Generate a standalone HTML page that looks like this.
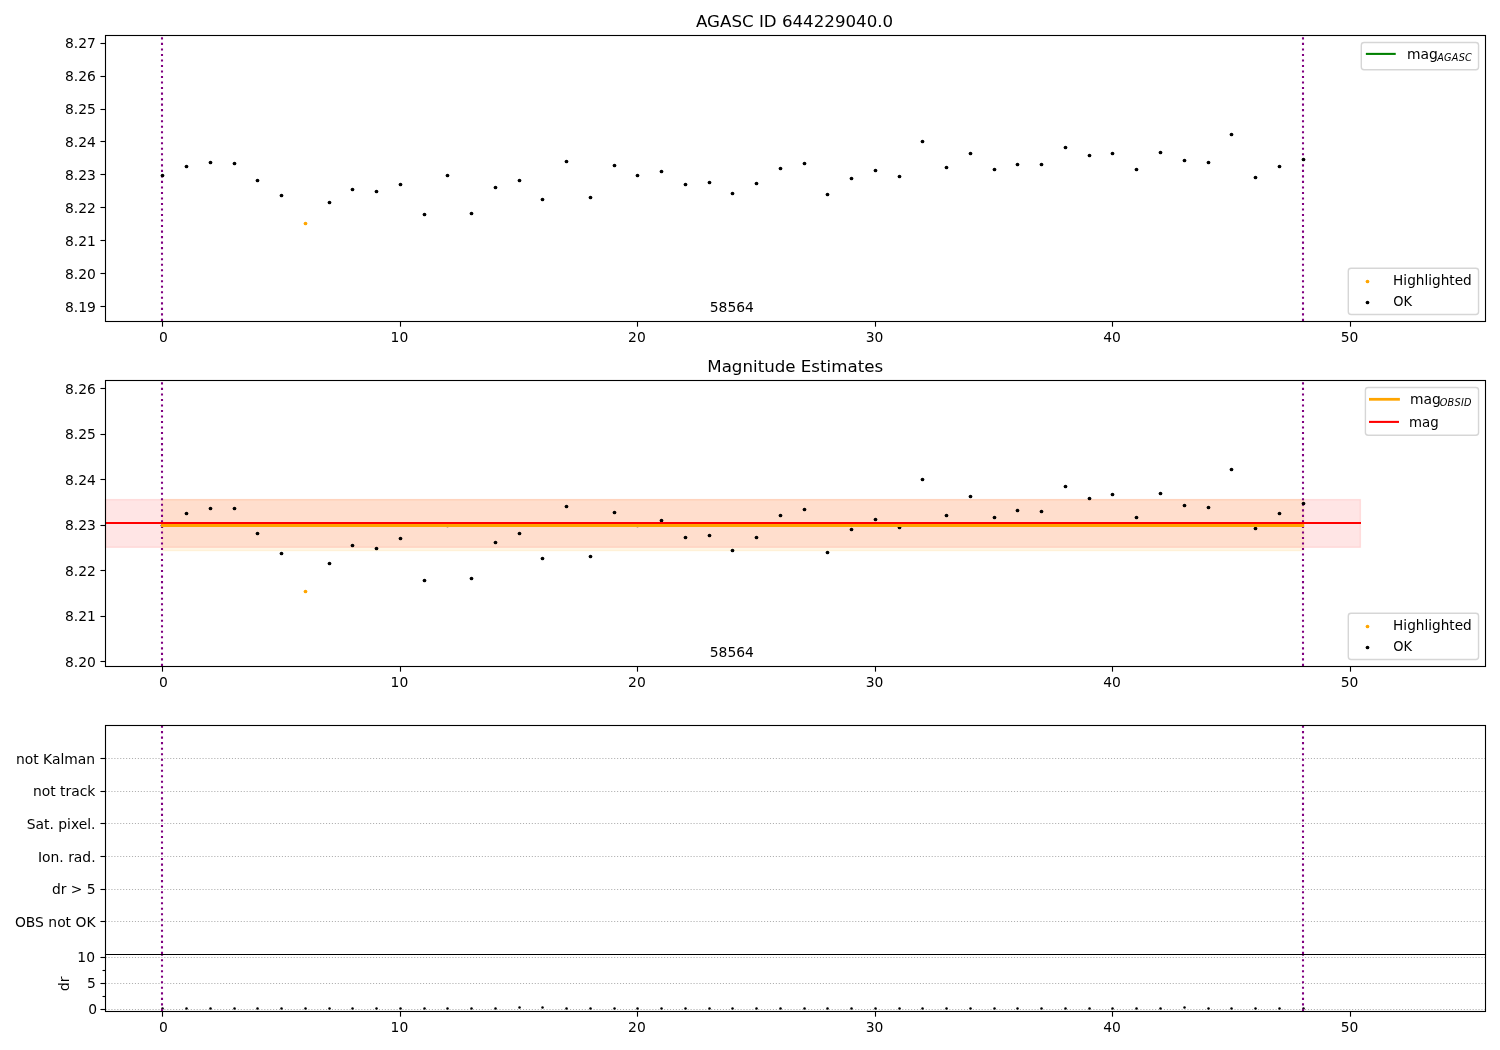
<!DOCTYPE html>
<html lang="en"><head><meta charset="utf-8"><title>AGASC ID 644229040.0</title>
<style>html,body{margin:0;padding:0;background:#fff}svg{display:block}</style></head>
<body>
<svg width="1500" height="1050" viewBox="0 0 1500 1050" font-family="'DejaVu Sans','Liberation Sans',sans-serif" font-size="13.89px" fill="#000">
<rect x="0" y="0" width="1500" height="1050" fill="#fff"/>
<g>
<line x1="162.0" y1="320.95" x2="162.0" y2="35.5" stroke="#800080" stroke-width="2.08" stroke-dasharray="2.08 3.44"/>
<line x1="1303.0" y1="320.95" x2="1303.0" y2="35.5" stroke="#800080" stroke-width="2.08" stroke-dasharray="2.08 3.44"/>
<circle cx="162.5" cy="175.5" r="1.85" fill="#000"/>
<circle cx="186.5" cy="166.5" r="1.85" fill="#000"/>
<circle cx="210.5" cy="162.5" r="1.85" fill="#000"/>
<circle cx="234.5" cy="163.5" r="1.85" fill="#000"/>
<circle cx="257.5" cy="180.5" r="1.85" fill="#000"/>
<circle cx="281.5" cy="195.5" r="1.85" fill="#000"/>
<circle cx="305.5" cy="223.5" r="1.85" fill="#ffa500"/>
<circle cx="329.5" cy="202.5" r="1.85" fill="#000"/>
<circle cx="352.5" cy="189.5" r="1.85" fill="#000"/>
<circle cx="376.5" cy="191.5" r="1.85" fill="#000"/>
<circle cx="400.5" cy="184.5" r="1.85" fill="#000"/>
<circle cx="424.5" cy="214.5" r="1.85" fill="#000"/>
<circle cx="447.5" cy="175.5" r="1.85" fill="#000"/>
<circle cx="471.5" cy="213.5" r="1.85" fill="#000"/>
<circle cx="495.5" cy="187.5" r="1.85" fill="#000"/>
<circle cx="519.5" cy="180.5" r="1.85" fill="#000"/>
<circle cx="542.5" cy="199.5" r="1.85" fill="#000"/>
<circle cx="566.5" cy="161.5" r="1.85" fill="#000"/>
<circle cx="590.5" cy="197.5" r="1.85" fill="#000"/>
<circle cx="614.5" cy="165.5" r="1.85" fill="#000"/>
<circle cx="637.5" cy="175.5" r="1.85" fill="#000"/>
<circle cx="661.5" cy="171.5" r="1.85" fill="#000"/>
<circle cx="685.5" cy="184.5" r="1.85" fill="#000"/>
<circle cx="709.5" cy="182.5" r="1.85" fill="#000"/>
<circle cx="732.5" cy="193.5" r="1.85" fill="#000"/>
<circle cx="756.5" cy="183.5" r="1.85" fill="#000"/>
<circle cx="780.5" cy="168.5" r="1.85" fill="#000"/>
<circle cx="804.5" cy="163.5" r="1.85" fill="#000"/>
<circle cx="827.5" cy="194.5" r="1.85" fill="#000"/>
<circle cx="851.5" cy="178.5" r="1.85" fill="#000"/>
<circle cx="875.5" cy="170.5" r="1.85" fill="#000"/>
<circle cx="899.5" cy="176.5" r="1.85" fill="#000"/>
<circle cx="922.5" cy="141.5" r="1.85" fill="#000"/>
<circle cx="946.5" cy="167.5" r="1.85" fill="#000"/>
<circle cx="970.5" cy="153.5" r="1.85" fill="#000"/>
<circle cx="994.5" cy="169.5" r="1.85" fill="#000"/>
<circle cx="1017.5" cy="164.5" r="1.85" fill="#000"/>
<circle cx="1041.5" cy="164.5" r="1.85" fill="#000"/>
<circle cx="1065.5" cy="147.5" r="1.85" fill="#000"/>
<circle cx="1089.5" cy="155.5" r="1.85" fill="#000"/>
<circle cx="1112.5" cy="153.5" r="1.85" fill="#000"/>
<circle cx="1136.5" cy="169.5" r="1.85" fill="#000"/>
<circle cx="1160.5" cy="152.5" r="1.85" fill="#000"/>
<circle cx="1184.5" cy="160.5" r="1.85" fill="#000"/>
<circle cx="1208.5" cy="162.5" r="1.85" fill="#000"/>
<circle cx="1231.5" cy="134.5" r="1.85" fill="#000"/>
<circle cx="1255.5" cy="177.5" r="1.85" fill="#000"/>
<circle cx="1279.5" cy="166.5" r="1.85" fill="#000"/>
<circle cx="1303.5" cy="159.5" r="1.85" fill="#000"/>
<text x="731.86" y="312" text-anchor="middle">58564</text>
<rect x="1361.30" y="42.45" width="117.25" height="27.25" rx="2.78" ry="2.78" fill="#fff" fill-opacity="0.8" stroke="#ccc" stroke-opacity="0.8" stroke-width="1.39"/>
<line x1="1366.9" y1="53.9" x2="1394.7" y2="53.9" stroke="#008000" stroke-width="2.08" stroke-linecap="square"/>
<text x="1406.90" y="59.00">mag<tspan font-style="oblique" font-size="9.72px" dy="2.1" dx="-0.5" letter-spacing="0.22">AGASC</tspan></text>
<rect x="1348.30" y="268.30" width="130.25" height="46.25" rx="2.78" ry="2.78" fill="#fff" fill-opacity="0.8" stroke="#ccc" stroke-opacity="0.8" stroke-width="1.39"/>
<circle cx="1367.5" cy="281.5" r="1.85" fill="#ffa500"/>
<circle cx="1367.5" cy="302.5" r="1.85" fill="#000"/>
<text transform="translate(1393.10 285) scale(0.983 1)" text-anchor="start">Highlighted</text>
<text transform="translate(1393.20 306) scale(0.94 1)" text-anchor="start">OK</text>
<rect x="105.5" y="35.5" width="1380.0" height="286.0" fill="none" stroke="#000" stroke-width="1.11" stroke-linejoin="miter"/>
<line x1="162.5" y1="321.5" x2="162.5" y2="326.66" stroke="#000" stroke-width="1.11"/>
<text x="163.51" y="342" text-anchor="middle">0</text>
<line x1="400.5" y1="321.5" x2="400.5" y2="326.66" stroke="#000" stroke-width="1.11"/>
<text x="399.43" y="342" text-anchor="middle">10</text>
<line x1="637.5" y1="321.5" x2="637.5" y2="326.66" stroke="#000" stroke-width="1.11"/>
<text x="636.95" y="342" text-anchor="middle">20</text>
<line x1="875.5" y1="321.5" x2="875.5" y2="326.66" stroke="#000" stroke-width="1.11"/>
<text x="874.47" y="342" text-anchor="middle">30</text>
<line x1="1112.5" y1="321.5" x2="1112.5" y2="326.66" stroke="#000" stroke-width="1.11"/>
<text x="1111.99" y="342" text-anchor="middle">40</text>
<line x1="1350.5" y1="321.5" x2="1350.5" y2="326.66" stroke="#000" stroke-width="1.11"/>
<text x="1349.51" y="342" text-anchor="middle">50</text>
<line x1="105.5" y1="43.5" x2="100.44" y2="43.5" stroke="#000" stroke-width="1.11"/>
<text x="95.90" y="48" text-anchor="end">8.27</text>
<line x1="105.5" y1="76.5" x2="100.44" y2="76.5" stroke="#000" stroke-width="1.11"/>
<text x="95.90" y="81" text-anchor="end">8.26</text>
<line x1="105.5" y1="109.5" x2="100.44" y2="109.5" stroke="#000" stroke-width="1.11"/>
<text x="95.90" y="114" text-anchor="end">8.25</text>
<line x1="105.5" y1="141.5" x2="100.44" y2="141.5" stroke="#000" stroke-width="1.11"/>
<text x="95.90" y="147" text-anchor="end">8.24</text>
<line x1="105.5" y1="174.5" x2="100.44" y2="174.5" stroke="#000" stroke-width="1.11"/>
<text x="95.90" y="180" text-anchor="end">8.23</text>
<line x1="105.5" y1="207.5" x2="100.44" y2="207.5" stroke="#000" stroke-width="1.11"/>
<text x="95.90" y="213" text-anchor="end">8.22</text>
<line x1="105.5" y1="240.5" x2="100.44" y2="240.5" stroke="#000" stroke-width="1.11"/>
<text x="95.90" y="246" text-anchor="end">8.21</text>
<line x1="105.5" y1="273.5" x2="100.44" y2="273.5" stroke="#000" stroke-width="1.11"/>
<text x="95.90" y="279" text-anchor="end">8.20</text>
<line x1="105.5" y1="306.5" x2="100.44" y2="306.5" stroke="#000" stroke-width="1.11"/>
<text x="95.90" y="312" text-anchor="end">8.19</text>
<text x="794.6" y="27" text-anchor="middle" font-size="16.67px">AGASC ID 644229040.0</text>
</g>
<g>
<rect x="105.5" y="499.6" width="1254.90" height="47.70" fill="#f00" fill-opacity="0.1" stroke="#f00" stroke-opacity="0.1" stroke-width="1.39"/>
<rect x="162.415" y="499.6" width="1141.09" height="51.00" fill="#ffa500" fill-opacity="0.1" stroke="#ffa500" stroke-opacity="0.1" stroke-width="1.39"/>
<line x1="162.0" y1="665.95" x2="162.0" y2="380.5" stroke="#800080" stroke-width="2.08" stroke-dasharray="2.08 3.44"/>
<line x1="1303.0" y1="665.95" x2="1303.0" y2="380.5" stroke="#800080" stroke-width="2.08" stroke-dasharray="2.08 3.44"/>
<circle cx="162.5" cy="525.5" r="1.85" fill="#000"/>
<circle cx="186.5" cy="513.5" r="1.85" fill="#000"/>
<circle cx="210.5" cy="508.5" r="1.85" fill="#000"/>
<circle cx="234.5" cy="508.5" r="1.85" fill="#000"/>
<circle cx="257.5" cy="533.5" r="1.85" fill="#000"/>
<circle cx="281.5" cy="553.5" r="1.85" fill="#000"/>
<circle cx="305.5" cy="591.5" r="1.85" fill="#ffa500"/>
<circle cx="329.5" cy="563.5" r="1.85" fill="#000"/>
<circle cx="352.5" cy="545.5" r="1.85" fill="#000"/>
<circle cx="376.5" cy="548.5" r="1.85" fill="#000"/>
<circle cx="400.5" cy="538.5" r="1.85" fill="#000"/>
<circle cx="424.5" cy="580.5" r="1.85" fill="#000"/>
<circle cx="447.5" cy="525.5" r="1.85" fill="#000"/>
<circle cx="471.5" cy="578.5" r="1.85" fill="#000"/>
<circle cx="495.5" cy="542.5" r="1.85" fill="#000"/>
<circle cx="519.5" cy="533.5" r="1.85" fill="#000"/>
<circle cx="542.5" cy="558.5" r="1.85" fill="#000"/>
<circle cx="566.5" cy="506.5" r="1.85" fill="#000"/>
<circle cx="590.5" cy="556.5" r="1.85" fill="#000"/>
<circle cx="614.5" cy="512.5" r="1.85" fill="#000"/>
<circle cx="637.5" cy="525.5" r="1.85" fill="#000"/>
<circle cx="661.5" cy="520.5" r="1.85" fill="#000"/>
<circle cx="685.5" cy="537.5" r="1.85" fill="#000"/>
<circle cx="709.5" cy="535.5" r="1.85" fill="#000"/>
<circle cx="732.5" cy="550.5" r="1.85" fill="#000"/>
<circle cx="756.5" cy="537.5" r="1.85" fill="#000"/>
<circle cx="780.5" cy="515.5" r="1.85" fill="#000"/>
<circle cx="804.5" cy="509.5" r="1.85" fill="#000"/>
<circle cx="827.5" cy="552.5" r="1.85" fill="#000"/>
<circle cx="851.5" cy="529.5" r="1.85" fill="#000"/>
<circle cx="875.5" cy="519.5" r="1.85" fill="#000"/>
<circle cx="899.5" cy="527.5" r="1.85" fill="#000"/>
<circle cx="922.5" cy="479.5" r="1.85" fill="#000"/>
<circle cx="946.5" cy="515.5" r="1.85" fill="#000"/>
<circle cx="970.5" cy="496.5" r="1.85" fill="#000"/>
<circle cx="994.5" cy="517.5" r="1.85" fill="#000"/>
<circle cx="1017.5" cy="510.5" r="1.85" fill="#000"/>
<circle cx="1041.5" cy="511.5" r="1.85" fill="#000"/>
<circle cx="1065.5" cy="486.5" r="1.85" fill="#000"/>
<circle cx="1089.5" cy="498.5" r="1.85" fill="#000"/>
<circle cx="1112.5" cy="494.5" r="1.85" fill="#000"/>
<circle cx="1136.5" cy="517.5" r="1.85" fill="#000"/>
<circle cx="1160.5" cy="493.5" r="1.85" fill="#000"/>
<circle cx="1184.5" cy="505.5" r="1.85" fill="#000"/>
<circle cx="1208.5" cy="507.5" r="1.85" fill="#000"/>
<circle cx="1231.5" cy="469.5" r="1.85" fill="#000"/>
<circle cx="1255.5" cy="528.5" r="1.85" fill="#000"/>
<circle cx="1279.5" cy="513.5" r="1.85" fill="#000"/>
<circle cx="1303.5" cy="503.5" r="1.85" fill="#000"/>
<line x1="162.415" y1="525.5" x2="1302.8" y2="525.5" stroke="#ffa500" stroke-width="2.78" stroke-linecap="square"/>
<line x1="106.54" y1="522.95" x2="1359.95" y2="522.95" stroke="#f00" stroke-width="2.08" stroke-linecap="square"/>
<text x="731.86" y="657" text-anchor="middle">58564</text>
<rect x="1365.40" y="387.45" width="113.15" height="47.85" rx="2.78" ry="2.78" fill="#fff" fill-opacity="0.8" stroke="#ccc" stroke-opacity="0.8" stroke-width="1.39"/>
<line x1="1370.4" y1="399.3" x2="1398.5" y2="399.3" stroke="#ffa500" stroke-width="2.78" stroke-linecap="square"/>
<line x1="1370.05" y1="421.9" x2="1397.95" y2="421.9" stroke="#f00" stroke-width="2.08" stroke-linecap="square"/>
<text x="1409.90" y="404.00">mag<tspan font-style="oblique" font-size="9.72px" dy="2.1" dx="-1.0" letter-spacing="0.25">OBSID</tspan></text>
<text transform="translate(1409.10 427) scale(0.962 1)" text-anchor="start">mag</text>
<rect x="1348.30" y="613.30" width="130.25" height="46.25" rx="2.78" ry="2.78" fill="#fff" fill-opacity="0.8" stroke="#ccc" stroke-opacity="0.8" stroke-width="1.39"/>
<circle cx="1367.5" cy="626.5" r="1.85" fill="#ffa500"/>
<circle cx="1367.5" cy="647.5" r="1.85" fill="#000"/>
<text transform="translate(1393.10 630) scale(0.983 1)" text-anchor="start">Highlighted</text>
<text transform="translate(1393.20 651) scale(0.94 1)" text-anchor="start">OK</text>
<rect x="105.5" y="380.5" width="1380.0" height="286.0" fill="none" stroke="#000" stroke-width="1.11" stroke-linejoin="miter"/>
<line x1="162.5" y1="666.5" x2="162.5" y2="671.66" stroke="#000" stroke-width="1.11"/>
<text x="163.51" y="687" text-anchor="middle">0</text>
<line x1="400.5" y1="666.5" x2="400.5" y2="671.66" stroke="#000" stroke-width="1.11"/>
<text x="399.43" y="687" text-anchor="middle">10</text>
<line x1="637.5" y1="666.5" x2="637.5" y2="671.66" stroke="#000" stroke-width="1.11"/>
<text x="636.95" y="687" text-anchor="middle">20</text>
<line x1="875.5" y1="666.5" x2="875.5" y2="671.66" stroke="#000" stroke-width="1.11"/>
<text x="874.47" y="687" text-anchor="middle">30</text>
<line x1="1112.5" y1="666.5" x2="1112.5" y2="671.66" stroke="#000" stroke-width="1.11"/>
<text x="1111.99" y="687" text-anchor="middle">40</text>
<line x1="1350.5" y1="666.5" x2="1350.5" y2="671.66" stroke="#000" stroke-width="1.11"/>
<text x="1349.51" y="687" text-anchor="middle">50</text>
<line x1="105.5" y1="388.5" x2="100.44" y2="388.5" stroke="#000" stroke-width="1.11"/>
<text x="95.90" y="394" text-anchor="end">8.26</text>
<line x1="105.5" y1="434.5" x2="100.44" y2="434.5" stroke="#000" stroke-width="1.11"/>
<text x="95.90" y="439" text-anchor="end">8.25</text>
<line x1="105.5" y1="479.5" x2="100.44" y2="479.5" stroke="#000" stroke-width="1.11"/>
<text x="95.90" y="485" text-anchor="end">8.24</text>
<line x1="105.5" y1="525.5" x2="100.44" y2="525.5" stroke="#000" stroke-width="1.11"/>
<text x="95.90" y="530" text-anchor="end">8.23</text>
<line x1="105.5" y1="570.5" x2="100.44" y2="570.5" stroke="#000" stroke-width="1.11"/>
<text x="95.90" y="576" text-anchor="end">8.22</text>
<line x1="105.5" y1="616.5" x2="100.44" y2="616.5" stroke="#000" stroke-width="1.11"/>
<text x="95.90" y="621" text-anchor="end">8.21</text>
<line x1="105.5" y1="661.5" x2="100.44" y2="661.5" stroke="#000" stroke-width="1.11"/>
<text x="95.90" y="667" text-anchor="end">8.20</text>
<text x="795.2" y="372" text-anchor="middle" font-size="16.67px">Magnitude Estimates</text>
</g>
<g>
<line x1="105.5" y1="758.5" x2="1485.5" y2="758.5" stroke="#b0b0b0" stroke-width="1.11" stroke-dasharray="1.11 1.83"/>
<line x1="105.5" y1="791.5" x2="1485.5" y2="791.5" stroke="#b0b0b0" stroke-width="1.11" stroke-dasharray="1.11 1.83"/>
<line x1="105.5" y1="823.5" x2="1485.5" y2="823.5" stroke="#b0b0b0" stroke-width="1.11" stroke-dasharray="1.11 1.83"/>
<line x1="105.5" y1="856.5" x2="1485.5" y2="856.5" stroke="#b0b0b0" stroke-width="1.11" stroke-dasharray="1.11 1.83"/>
<line x1="105.5" y1="889.5" x2="1485.5" y2="889.5" stroke="#b0b0b0" stroke-width="1.11" stroke-dasharray="1.11 1.83"/>
<line x1="105.5" y1="921.5" x2="1485.5" y2="921.5" stroke="#b0b0b0" stroke-width="1.11" stroke-dasharray="1.11 1.83"/>
<line x1="105.5" y1="957.5" x2="1485.5" y2="957.5" stroke="#b0b0b0" stroke-width="1.11" stroke-dasharray="1.11 1.83"/>
<line x1="105.5" y1="983.5" x2="1485.5" y2="983.5" stroke="#b0b0b0" stroke-width="1.11" stroke-dasharray="1.11 1.83"/>
<line x1="105.5" y1="1009.5" x2="1485.5" y2="1009.5" stroke="#b0b0b0" stroke-width="1.11" stroke-dasharray="1.11 1.83"/>
<circle cx="162.5" cy="1008.5" r="1.25" fill="#000"/>
<circle cx="186.5" cy="1008.5" r="1.25" fill="#000"/>
<circle cx="210.5" cy="1008.5" r="1.25" fill="#000"/>
<circle cx="234.5" cy="1008.5" r="1.25" fill="#000"/>
<circle cx="257.5" cy="1008.5" r="1.25" fill="#000"/>
<circle cx="281.5" cy="1008.5" r="1.25" fill="#000"/>
<circle cx="305.5" cy="1008.5" r="1.25" fill="#000"/>
<circle cx="329.5" cy="1008.5" r="1.25" fill="#000"/>
<circle cx="352.5" cy="1008.5" r="1.25" fill="#000"/>
<circle cx="376.5" cy="1008.5" r="1.25" fill="#000"/>
<circle cx="400.5" cy="1008.5" r="1.25" fill="#000"/>
<circle cx="424.5" cy="1008.5" r="1.25" fill="#000"/>
<circle cx="447.5" cy="1008.5" r="1.25" fill="#000"/>
<circle cx="471.5" cy="1008.5" r="1.25" fill="#000"/>
<circle cx="495.5" cy="1008.5" r="1.25" fill="#000"/>
<circle cx="519.5" cy="1007.5" r="1.25" fill="#000"/>
<circle cx="542.5" cy="1007.5" r="1.25" fill="#000"/>
<circle cx="566.5" cy="1008.5" r="1.25" fill="#000"/>
<circle cx="590.5" cy="1008.5" r="1.25" fill="#000"/>
<circle cx="614.5" cy="1008.5" r="1.25" fill="#000"/>
<circle cx="637.5" cy="1008.5" r="1.25" fill="#000"/>
<circle cx="661.5" cy="1008.5" r="1.25" fill="#000"/>
<circle cx="685.5" cy="1008.5" r="1.25" fill="#000"/>
<circle cx="709.5" cy="1008.5" r="1.25" fill="#000"/>
<circle cx="732.5" cy="1008.5" r="1.25" fill="#000"/>
<circle cx="756.5" cy="1008.5" r="1.25" fill="#000"/>
<circle cx="780.5" cy="1008.5" r="1.25" fill="#000"/>
<circle cx="804.5" cy="1008.5" r="1.25" fill="#000"/>
<circle cx="827.5" cy="1008.5" r="1.25" fill="#000"/>
<circle cx="851.5" cy="1008.5" r="1.25" fill="#000"/>
<circle cx="875.5" cy="1008.5" r="1.25" fill="#000"/>
<circle cx="899.5" cy="1008.5" r="1.25" fill="#000"/>
<circle cx="922.5" cy="1008.5" r="1.25" fill="#000"/>
<circle cx="946.5" cy="1008.5" r="1.25" fill="#000"/>
<circle cx="970.5" cy="1008.5" r="1.25" fill="#000"/>
<circle cx="994.5" cy="1008.5" r="1.25" fill="#000"/>
<circle cx="1017.5" cy="1008.5" r="1.25" fill="#000"/>
<circle cx="1041.5" cy="1008.5" r="1.25" fill="#000"/>
<circle cx="1065.5" cy="1008.5" r="1.25" fill="#000"/>
<circle cx="1089.5" cy="1008.5" r="1.25" fill="#000"/>
<circle cx="1112.5" cy="1008.5" r="1.25" fill="#000"/>
<circle cx="1136.5" cy="1008.5" r="1.25" fill="#000"/>
<circle cx="1160.5" cy="1008.5" r="1.25" fill="#000"/>
<circle cx="1184.5" cy="1007.5" r="1.25" fill="#000"/>
<circle cx="1208.5" cy="1008.5" r="1.25" fill="#000"/>
<circle cx="1231.5" cy="1008.5" r="1.25" fill="#000"/>
<circle cx="1255.5" cy="1008.5" r="1.25" fill="#000"/>
<circle cx="1279.5" cy="1008.5" r="1.25" fill="#000"/>
<circle cx="1303.5" cy="1008.5" r="1.25" fill="#000"/>
<line x1="162.0" y1="953.95" x2="162.0" y2="725.5" stroke="#800080" stroke-width="2.08" stroke-dasharray="2.08 3.44"/>
<line x1="1303.0" y1="953.95" x2="1303.0" y2="725.5" stroke="#800080" stroke-width="2.08" stroke-dasharray="2.08 3.44"/>
<line x1="162.0" y1="1010.95" x2="162.0" y2="954.5" stroke="#800080" stroke-width="2.08" stroke-dasharray="2.08 3.44"/>
<line x1="1303.0" y1="1010.95" x2="1303.0" y2="954.5" stroke="#800080" stroke-width="2.08" stroke-dasharray="2.08 3.44"/>
<rect x="105.5" y="725.5" width="1380.0" height="286.0" fill="none" stroke="#000" stroke-width="1.11" stroke-linejoin="miter"/>
<line x1="104.95" y1="954.5" x2="1486.05" y2="954.5" stroke="#000" stroke-width="1.11"/>
<line x1="162.5" y1="1011.5" x2="162.5" y2="1016.66" stroke="#000" stroke-width="1.11"/>
<text x="163.51" y="1032" text-anchor="middle">0</text>
<line x1="400.5" y1="1011.5" x2="400.5" y2="1016.66" stroke="#000" stroke-width="1.11"/>
<text x="399.43" y="1032" text-anchor="middle">10</text>
<line x1="637.5" y1="1011.5" x2="637.5" y2="1016.66" stroke="#000" stroke-width="1.11"/>
<text x="636.95" y="1032" text-anchor="middle">20</text>
<line x1="875.5" y1="1011.5" x2="875.5" y2="1016.66" stroke="#000" stroke-width="1.11"/>
<text x="874.47" y="1032" text-anchor="middle">30</text>
<line x1="1112.5" y1="1011.5" x2="1112.5" y2="1016.66" stroke="#000" stroke-width="1.11"/>
<text x="1111.99" y="1032" text-anchor="middle">40</text>
<line x1="1350.5" y1="1011.5" x2="1350.5" y2="1016.66" stroke="#000" stroke-width="1.11"/>
<text x="1349.51" y="1032" text-anchor="middle">50</text>
<line x1="105.5" y1="758.5" x2="100.44" y2="758.5" stroke="#000" stroke-width="1.11"/>
<text x="95.10" y="764" text-anchor="end">not Kalman</text>
<line x1="105.5" y1="791.5" x2="100.44" y2="791.5" stroke="#000" stroke-width="1.11"/>
<text x="95.40" y="796" text-anchor="end">not track</text>
<line x1="105.5" y1="823.5" x2="100.44" y2="823.5" stroke="#000" stroke-width="1.11"/>
<text x="95.50" y="829" text-anchor="end">Sat. pixel.</text>
<line x1="105.5" y1="856.5" x2="100.44" y2="856.5" stroke="#000" stroke-width="1.11"/>
<text x="95.60" y="862" text-anchor="end">Ion. rad.</text>
<line x1="105.5" y1="889.5" x2="100.44" y2="889.5" stroke="#000" stroke-width="1.11"/>
<text x="95.70" y="894" text-anchor="end">dr &gt; 5</text>
<line x1="105.5" y1="921.5" x2="100.44" y2="921.5" stroke="#000" stroke-width="1.11"/>
<text x="95.50" y="927" text-anchor="end">OBS not OK</text>
<line x1="105.5" y1="957.5" x2="100.44" y2="957.5" stroke="#000" stroke-width="1.11"/>
<text x="95.00" y="962" text-anchor="end">10</text>
<line x1="105.5" y1="983.5" x2="100.44" y2="983.5" stroke="#000" stroke-width="1.11"/>
<text x="95.90" y="988" text-anchor="end">5</text>
<line x1="105.5" y1="1009.5" x2="100.44" y2="1009.5" stroke="#000" stroke-width="1.11"/>
<text x="97.20" y="1014" text-anchor="end">0</text>
<line x1="105.5" y1="970.5" x2="102.52" y2="970.5" stroke="#000" stroke-width="1.11"/>
<line x1="105.5" y1="996.5" x2="102.52" y2="996.5" stroke="#000" stroke-width="1.11"/>
<text transform="translate(69 983.8) rotate(-90)" text-anchor="middle">dr</text>
</g>
</svg>
</body></html>
